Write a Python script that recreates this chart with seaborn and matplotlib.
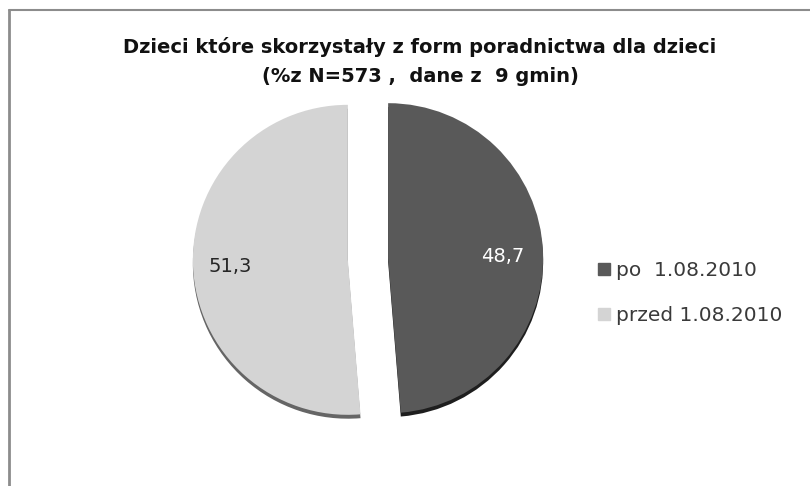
import matplotlib
matplotlib.use("Agg")
import matplotlib.pyplot as plt
import seaborn as sns
import numpy as np
from matplotlib.lines import Line2D

# ---- data ----
categories = ["po  1.08.2010", "przed 1.08.2010"]
values = [48.7, 51.3]
colors = ["#595959", "#d4d4d4"]
shadow_colors = ["#1e1e1e", "#656565"]
label_colors = ["white", "#262626"]
title_lines = ["Dzieci które skorzystały z form poradnictwa dla dzieci",
               "(%z N=573 ,  dane z  9 gmin)"]

sns.set_theme(style="white")
plt.rcParams["font.family"] = ["DejaVu Sans"]

W, H = 810, 486
fig = plt.figure(figsize=(W / 100, H / 100), dpi=100)
fig.patch.set_facecolor("white")

# axes: pie center (368,259) px, radius 155 px, limits +/-1.3
r_px = 155
span = 1.3
aw = 2 * span * r_px
cx, cy = 368, 259
ax = fig.add_axes([(cx - aw / 2) / W, (H - cy - aw / 2) / H, aw / W, aw / H])

ex = 0.13
# thin darker rim (3D-like edge) under the slices
ax.pie(values, colors=shadow_colors, startangle=90, counterclock=False,
       explode=[ex, ex], center=(0.0, -0.025), wedgeprops=dict(linewidth=0))
wedges, texts = ax.pie(
    values,
    colors=colors,
    startangle=90,
    counterclock=False,
    explode=[ex, ex],
    wedgeprops=dict(linewidth=0),
)
ax.set_xlim(-span, span)
ax.set_ylim(-span, span)
ax.set_aspect("equal")
ax.axis("off")

# value labels
dists = [0.74, 0.76]
dy = [-0.02, -0.01]
cum = 0
for i, v in enumerate(values):
    mid = 90 - (cum + v / 2) * 3.6
    cum += v
    theta = np.deg2rad(mid)
    x = (ex + dists[i]) * np.cos(theta)
    y = (ex + dists[i]) * np.sin(theta) + dy[i]
    ax.text(x, y, f"{v:.1f}".replace(".", ","), ha="center", va="center",
            fontsize=14, color=label_colors[i])

# title
for k, line in enumerate(title_lines):
    fig.text(420 / W, 1 - (47 + 29 * k) / H, line, ha="center", va="center",
             fontsize=14, fontweight="bold", color="#111111")

# legend
handles = [Line2D([0], [0], marker="s", linestyle="", markersize=8,
                  markerfacecolor=c, markeredgecolor=c) for c in colors]
leg = fig.legend(handles, categories, loc="center left",
                 bbox_to_anchor=(588 / W, 1 - 293 / H), frameon=False,
                 fontsize=14.5, labelspacing=1.3, handletextpad=0.2,
                 handlelength=0.8, borderaxespad=0)
for t in leg.get_texts():
    t.set_color("#3a3a3a")

# outer frame (top and left edges visible)
fig.add_artist(Line2D([9 / W, 1.0], [1 - 10 / H, 1 - 10 / H], transform=fig.transFigure,
                      color="#8c8c8c", linewidth=1.5))
fig.add_artist(Line2D([9 / W, 9 / W], [0, 1 - 10 / H], transform=fig.transFigure,
                      color="#8c8c8c", linewidth=2))

fig.savefig("out.png", dpi=100, facecolor="white")
